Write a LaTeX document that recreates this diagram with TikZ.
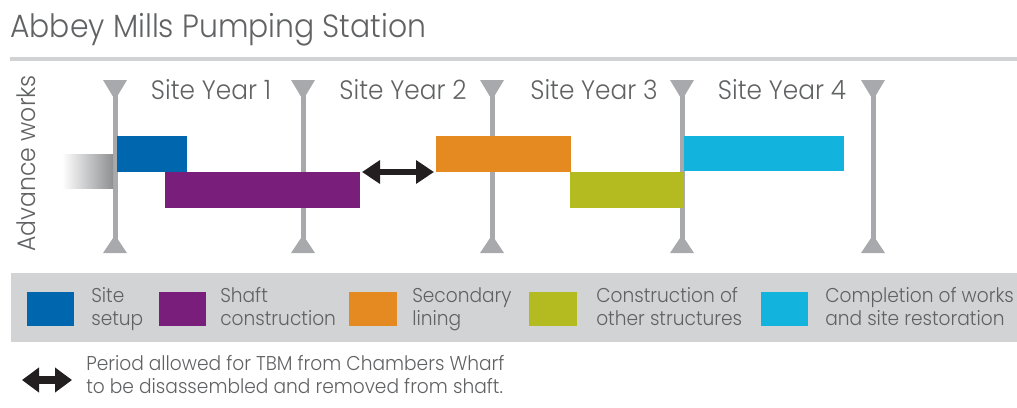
\documentclass[tikz,border=0pt]{standalone}
\usepackage{fontspec}
\IfFontExistsTF{Poppins Light}{\setmainfont{Poppins Light}[FakeStretch=0.93]}{\setmainfont{Poppins}[FakeStretch=0.93]}
\usetikzlibrary{arrows.meta}
\definecolor{txtgray}{HTML}{616264}
\definecolor{rulegray}{HTML}{D0D2D3}
\definecolor{divgray}{HTML}{A7A9AC}
\definecolor{bandgray}{HTML}{D1D3D4}
\definecolor{cblue}{HTML}{0066AE}
\definecolor{cpurple}{HTML}{7A1E7B}
\definecolor{corange}{HTML}{E58A21}
\definecolor{colive}{HTML}{B3BB21}
\definecolor{ccyan}{HTML}{12B4DD}
\definecolor{carrow}{HTML}{231F20}
\newcommand{\ganttbox}[7][]{%
  \node[boxnode,#1,fill=#3,minimum width={(#6-#4)*0.75pt},minimum height={(#7-#5)*0.75pt}] (#2) at ({(#4+#6)/2},{(#5+#7)/2}) {};}
\begin{document}
\begin{tikzpicture}[x=0.75pt,y=-0.75pt,
  boxnode/.style={rectangle,inner sep=0pt,outer sep=0pt,draw=none},
  divider/.style={draw=divgray,line width=3.75pt},
  tri/.style={fill=divgray,draw=none},
  yearlbl/.style={anchor=base,inner sep=0pt,text=txtgray,font=\fontsize{20}{24}\selectfont},
  legtxt/.style={anchor=base west,inner sep=0pt,align=left,text=txtgray,font=\fontsize{15}{17.25}\selectfont},
  bigarrow/.style={draw=carrow,line width=5pt,{Triangle[length=13.5pt,width=17pt]}-{Triangle[length=13.5pt,width=17pt]}},
  keyarrow/.style={draw=carrow,line width=5.5pt,{Triangle[length=12.75pt,width=18pt]}-{Triangle[length=12.75pt,width=18pt]}}]
\useasboundingbox (0,0) rectangle (1017,407);
% title
\node[anchor=base west,inner sep=0pt,text=txtgray,font=\fontsize{24.1}{29}\selectfont] (title) at (10,37) {Abbey Mills Pumping Station};
\coordinate (ruleL) at (10,59);
\coordinate (ruleR) at (1017,59);
\draw[rulegray,line width=3pt] (ruleL) -- (ruleR);
% side label
\node[rotate=90,anchor=base west,inner sep=0pt,text=txtgray,font=\fontsize{19}{22}\selectfont] (adv) at (36,252) {Advance works};
% dividers
\foreach \x/\n in {115/d1,303/d2,492/d3,682/d4,873/d5}{
  \coordinate (\n top) at (\x,82);
  \coordinate (\n bot) at (\x,251);
  \draw[divider] (\n top) -- (\n bot);
  \fill[tri] (\x-12,80) -- (\x+12,80) -- (\x,100) -- cycle;
  \fill[tri] (\x-12,253) -- (\x+12,253) -- (\x,235) -- cycle;
}
% year labels
\node[yearlbl] (y1) at (211,99) {Site Year 1};
\node[yearlbl] (y2) at (403,99) {Site Year 2};
\node[yearlbl] (y3) at (594,99) {Site Year 3};
\node[yearlbl] (y4) at (782,99) {Site Year 4};
% bars
\node[boxnode,left color=white,right color=divgray!85!black,minimum width={(113-62)*0.75pt},minimum height={(188-154)*0.75pt}] (adwork) at ({(62+113)/2},{(154+188)/2}) {};
\ganttbox{setup}{cblue}{117}{136}{187}{172}
\ganttbox{shaft}{cpurple}{165}{172}{360}{208}
\ganttbox{lining}{corange}{436}{136}{571}{172}
\ganttbox{other}{colive}{570}{172}{684}{208}
\ganttbox{complete}{ccyan}{684}{136}{844}{171}
\draw[bigarrow,shorten <=1.5pt,shorten >=1.5pt] (shaft.north east) -- (lining.south west);
% legend band
\node[boxnode,fill=bandgray,minimum width={(1017-11)*0.75pt},minimum height={(342-273)*0.75pt}] (band) at ({(11+1017)/2},{(273+342)/2}) {};
\ganttbox{k1}{cblue}{27}{292}{74}{326}
\ganttbox{k2}{cpurple}{159}{292}{206}{326}
\ganttbox{k3}{corange}{349}{292}{397}{326}
\ganttbox{k4}{colive}{529}{292}{577}{326}
\ganttbox{k5}{ccyan}{761}{292}{808}{326}
\node[legtxt] (t1) at (91,325) {Site\\setup};
\node[legtxt] (t2) at (220,325) {Shaft\\construction};
\node[legtxt] (t3) at (412,325) {Secondary\\lining};
\node[legtxt] (t4) at (596,325) {Construction of\\other structures};
\node[legtxt] (t5) at (825,325) {Completion of works\\and site restoration};
% key arrow
\coordinate (ka) at (22,380);
\coordinate (kb) at (72,380);
\draw[keyarrow] (ka) -- (kb);
\node[legtxt] (note) at (86,393) {Period allowed for TBM from Chambers Wharf\\to be disassembled and removed from shaft.};
\end{tikzpicture}
\end{document}
